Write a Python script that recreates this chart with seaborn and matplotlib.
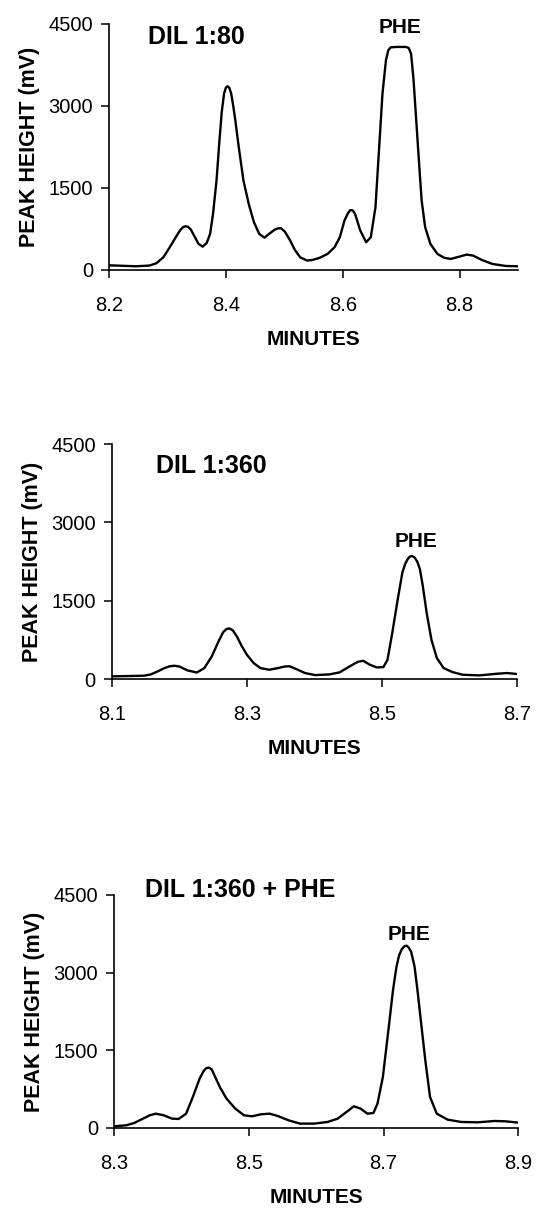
import matplotlib
matplotlib.use("Agg")
import matplotlib.pyplot as plt
import seaborn as sns
import pandas as pd


# values (minutes, mV)
minutes_80 = [8.200, 8.246, 8.269, 8.281, 8.293, 8.304, 8.316, 8.322, 8.327, 8.331,
              8.335, 8.340, 8.346, 8.353, 8.360, 8.367, 8.373, 8.378, 8.384, 8.389,
              8.393, 8.397, 8.400, 8.403, 8.406, 8.409, 8.412, 8.416, 8.422, 8.430,
              8.439, 8.448, 8.457, 8.466, 8.474, 8.483, 8.489, 8.494, 8.501, 8.510,
              8.518, 8.527, 8.539, 8.548, 8.560, 8.574, 8.586, 8.595, 8.603, 8.609,
              8.613, 8.617, 8.621, 8.630, 8.640, 8.648, 8.656, 8.662, 8.668, 8.674,
              8.678, 8.682, 8.692, 8.708, 8.713, 8.717, 8.721, 8.726, 8.730, 8.735,
              8.741, 8.750, 8.762, 8.774, 8.785, 8.800, 8.812, 8.823, 8.838, 8.856,
              8.879, 8.900]
mv_80 = [85, 67, 80, 122, 232, 416, 630, 730, 785, 800,
         790, 740, 620, 480, 426, 490, 660, 1027, 1639, 2372,
         2900, 3230, 3335, 3360, 3330, 3230, 3040, 2750, 2250, 1639,
         1211, 874, 660, 590, 660, 734, 760, 765, 700, 538,
         367, 232, 171, 183, 220, 293, 416, 599, 905, 1040,
         1095, 1090, 1027, 721, 507, 599, 1149, 2189, 3228, 3840,
         4020, 4072, 4080, 4080, 4060, 3950, 3500, 2700, 2050, 1272,
         783, 477, 293, 220, 202, 245, 281, 263, 183, 110,
         73, 67]

minutes_360 = [8.100, 8.148, 8.158, 8.168, 8.178, 8.186, 8.193, 8.200, 8.212, 8.226,
               8.237, 8.248, 8.258, 8.265, 8.270, 8.274, 8.279, 8.285, 8.292, 8.300,
               8.310, 8.320, 8.333, 8.346, 8.356, 8.363, 8.373, 8.386, 8.401, 8.422,
               8.437, 8.452, 8.464, 8.472, 8.482, 8.492, 8.502, 8.508, 8.515, 8.523,
               8.530, 8.534, 8.538, 8.541, 8.544, 8.548, 8.552, 8.556, 8.560, 8.566,
               8.573, 8.581, 8.591, 8.604, 8.619, 8.644, 8.670, 8.685, 8.700]
mv_360 = [51, 64, 89, 147, 210, 245, 255, 240, 166, 125,
          210, 433, 720, 900, 960, 970, 935, 820, 640, 465,
          306, 210, 178, 210, 240, 245, 191, 115, 76, 89,
          127, 242, 330, 350, 274, 223, 229, 370, 880, 1517,
          2040, 2200, 2300, 2345, 2355, 2330, 2250, 2100, 1800, 1262,
          752, 402, 210, 134, 83, 70, 102, 115, 96]

minutes_spk = [8.300, 8.318, 8.330, 8.343, 8.353, 8.362, 8.374, 8.386, 8.396, 8.407,
               8.417, 8.427, 8.433, 8.437, 8.441, 8.445, 8.450, 8.457, 8.467, 8.480,
               8.493, 8.505, 8.518, 8.531, 8.543, 8.559, 8.576, 8.597, 8.617, 8.632,
               8.645, 8.656, 8.666, 8.676, 8.685, 8.691, 8.699, 8.706, 8.714, 8.719,
               8.723, 8.727, 8.731, 8.734, 8.737, 8.741, 8.746, 8.750, 8.756, 8.762,
               8.769, 8.779, 8.795, 8.815, 8.840, 8.865, 8.880, 8.900]
mv_spk = [32, 51, 96, 180, 244, 276, 244, 180, 174, 276,
          598, 951, 1100, 1155, 1165, 1130, 990, 791, 566, 373,
          244, 225, 264, 276, 231, 148, 84, 84, 116, 180,
          309, 418, 373, 276, 289, 469, 984, 1755, 2655, 3100,
          3330, 3450, 3510, 3520, 3490, 3400, 3117, 2700, 2000, 1305,
          598, 276, 161, 116, 109, 135, 129, 103]

titles = ["DIL 1:80", "DIL 1:360", "DIL 1:360 + PHE"]
x_ticks = [[8.2, 8.4, 8.6, 8.8], [8.1, 8.3, 8.5, 8.7], [8.3, 8.5, 8.7, 8.9]]
y_ticks = [0, 1500, 3000, 4500]
phe_pos = [(8.698, 4330), (8.550, 2533), (8.738, 3632)]

sns.set_style("ticks")
plt.rcParams["font.family"] = ["Liberation Sans", "DejaVu Sans"]
plt.rcParams["text.color"] = "black"
plt.rcParams["axes.labelcolor"] = "black"

fig = plt.figure(figsize=(5.36, 12.10), dpi=100)

panels = [
    (minutes_80, mv_80, (8.2, 8.9), [0.2034, 0.7769, 0.7631, 0.2033], (0.096, 0.919)),
    (minutes_360, mv_360, (8.1, 8.7), [0.2084, 0.4388, 0.7567, 0.1942], (0.109, 0.875)),
    (minutes_spk, mv_spk, (8.3, 8.9), [0.2127, 0.0678, 0.7543, 0.1926], (0.076, 0.993)),
]

for i, (xs, ys, xlim, rect, tpos) in enumerate(panels):
    ax = fig.add_axes(rect)
    df = pd.DataFrame({"minutes": xs, "mv": ys})
    sns.lineplot(data=df, x="minutes", y="mv", ax=ax, color="black",
                 linewidth=1.7, estimator=None)
    ax.set_xlim(*xlim)
    ax.set_ylim(0, 4500)
    ax.set_xticks(x_ticks[i])
    ax.set_xticklabels([f"{t:.1f}" for t in x_ticks[i]])
    ax.set_yticks(y_ticks)
    ax.set_yticklabels([str(t) for t in y_ticks])
    sns.despine(ax=ax)
    for side in ["left", "bottom"]:
        ax.spines[side].set_linewidth(1.2)
        ax.spines[side].set_color("black")
    ax.tick_params(axis="both", direction="out", length=5.5, width=1.1,
                   color="black", labelsize=14.5, labelcolor="black")
    ax.tick_params(axis="x", pad=13)
    ax.tick_params(axis="y", pad=6)
    ax.set_xlabel("MINUTES", fontsize=15, fontweight="bold", labelpad=11,
                  color="black")
    ax.set_ylabel("PEAK HEIGHT (mV)", fontsize=15.5, fontweight="bold",
                  labelpad=6, color="black")
    ax.text(tpos[0], tpos[1], titles[i], transform=ax.transAxes, color="black",
            fontsize=18, fontweight="bold", ha="left", va="baseline")
    ax.text(phe_pos[i][0], phe_pos[i][1], "PHE", fontsize=15, color="black",
            fontweight="bold", ha="center", va="baseline")

fig.savefig("out.png", dpi=100, facecolor="white")
